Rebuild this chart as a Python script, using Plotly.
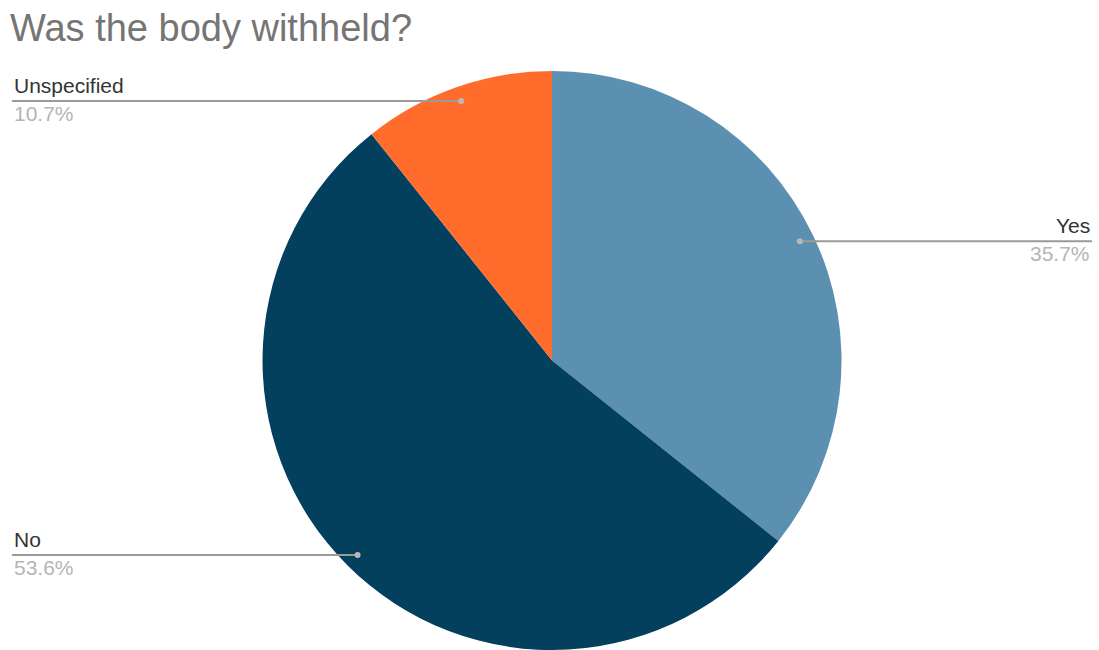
import math
import plotly.graph_objects as go

# Responses to "Was the body withheld?"
categories = ["Yes", "No", "Unspecified"]
counts = [10, 15, 3]
slice_colors = ["#5b90b1", "#02405e", "#ff6c2c"]

title_text = "Was the body withheld?"

W, H = 1099, 650
TOP = 71                      # space reserved above the pie for the title
DOM_X = [0.0046, 1.0]
DOM_Y = [0.0, 1.0 - TOP / H]

fig = go.Figure(
    go.Pie(
        labels=categories,
        values=counts,
        marker=dict(colors=slice_colors, line=dict(width=0)),
        sort=False,
        direction="clockwise",
        rotation=0,
        textinfo="none",
        hoverinfo="label+percent",
        domain=dict(x=DOM_X, y=DOM_Y),
        showlegend=False,
    )
)

# Pie geometry in pixels (margins are zero so paper == page)
cx = (DOM_X[0] + DOM_X[1]) / 2 * W
cy = (1 - (DOM_Y[0] + DOM_Y[1]) / 2) * H
R = min((DOM_X[1] - DOM_X[0]) * W, (DOM_Y[1] - DOM_Y[0]) * H) / 2

def px(x):
    return x / W

def py(y):
    return 1 - y / H

total = sum(counts)
shapes = []
annotations = []
cum = 0
EDGE_L, EDGE_R = 12, 1092
FONT = "Arial, Liberation Sans"
for name, val in zip(categories, counts):
    frac = val / total
    mid = (cum + frac / 2) * 2 * math.pi
    cum += frac
    dx = cx + 0.95 * R * math.sin(mid)
    dy = cy - 0.95 * R * math.cos(mid)
    right = math.sin(mid) > 0
    x_end = EDGE_R if right else EDGE_L
    # leader line
    shapes.append(dict(type="line", xref="paper", yref="paper",
                       x0=px(min(dx, x_end)), x1=px(max(dx, x_end)),
                       y0=py(dy), y1=py(dy),
                       line=dict(color="#9a9a9a", width=2)))
    # anchor dot
    r = 3
    shapes.append(dict(type="circle", xref="paper", yref="paper",
                       x0=px(dx - r), x1=px(dx + r), y0=py(dy + r), y1=py(dy - r),
                       fillcolor="#b8b8b8", line=dict(width=0)))
    xanchor = "right" if right else "left"
    annotations.append(dict(text=name, xref="paper", yref="paper",
                            x=px(x_end), y=py(dy - 2), xanchor=xanchor, yanchor="bottom",
                            showarrow=False,
                            font=dict(family=FONT, size=21, color="#333333")))
    annotations.append(dict(text=f"{frac * 100:.1f}%", xref="paper", yref="paper",
                            x=px(x_end), y=py(dy - 1), xanchor=xanchor, yanchor="top",
                            showarrow=False,
                            font=dict(family=FONT, size=21, color="#b5b5b5")))

fig.update_layout(
    width=W, height=H,
    margin=dict(l=0, r=0, t=0, b=0),
    paper_bgcolor="white",
    plot_bgcolor="white",
    title=dict(text=title_text, x=px(10), xanchor="left", xref="paper",
               y=1 - 28 / H, yref="container", yanchor="middle",
               font=dict(family=FONT, size=38, color="#757575")),
    shapes=shapes,
    annotations=annotations,
)

fig.write_html("out.html")
